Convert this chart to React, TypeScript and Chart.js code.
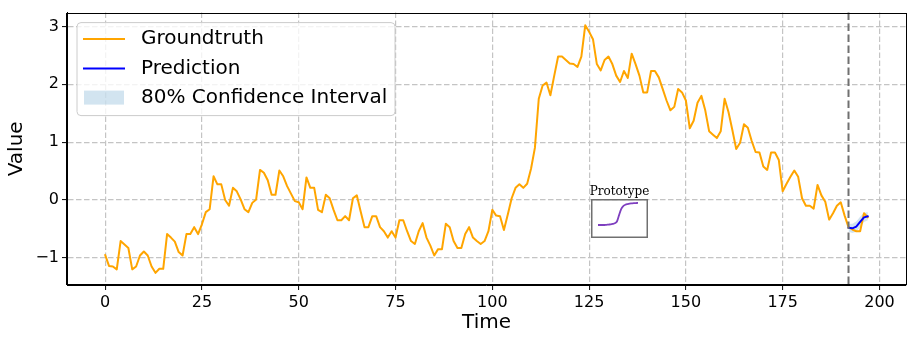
import React, { useEffect, useRef } from "react";
import { Chart, registerables } from "chart.js";

Chart.register(...registerables);

// ---------- data ----------
const groundtruth: number[] = [
  -0.95, -1.14, -1.15, -1.2, -0.71, -0.77, -0.83, -1.2, -1.15, -0.96,
  -0.89, -0.96, -1.15, -1.26, -1.19, -1.19, -0.59, -0.65, -0.72, -0.9,
  -0.96, -0.59, -0.59, -0.47, -0.59, -0.42, -0.21, -0.16, 0.41, 0.27,
  0.27, 0.0, -0.1, 0.21, 0.15, 0.01, -0.16, -0.21, -0.05, 0.01,
  0.52, 0.47, 0.34, 0.09, 0.09, 0.51, 0.41, 0.24, 0.11, -0.02,
  -0.04, -0.16, 0.39, 0.21, 0.21, -0.17, -0.21, 0.09, 0.03, -0.17,
  -0.35, -0.35, -0.28, -0.35, 0.03, 0.08, -0.2, -0.47, -0.47, -0.28,
  -0.28, -0.47, -0.54, -0.65, -0.54, -0.65, -0.35, -0.35, -0.54, -0.71,
  -0.76, -0.54, -0.4, -0.65, -0.79, -0.96, -0.85, -0.85, -0.41, -0.47,
  -0.71, -0.83, -0.83, -0.59, -0.47, -0.65, -0.71, -0.76, -0.71, -0.54,
  -0.17, -0.27, -0.28, -0.52, -0.25, 0.03, 0.21, 0.27, 0.21, 0.28,
  0.54, 0.9, 1.75, 1.98, 2.03, 1.81, 2.15, 2.48, 2.48, 2.42,
  2.36, 2.35, 2.3, 2.48, 3.02, 2.91, 2.78, 2.35, 2.24, 2.42,
  2.48, 2.35, 2.15, 2.04, 2.23, 2.11, 2.53, 2.35, 2.15, 1.86,
  1.86, 2.23, 2.23, 2.12, 1.92, 1.72, 1.55, 1.61, 1.92, 1.86,
  1.72, 1.24, 1.37, 1.68, 1.8, 1.55, 1.19, 1.13, 1.07, 1.19,
  1.75, 1.52, 1.21, 0.88, 0.99, 1.31, 1.25, 1.02, 0.83, 0.82,
  0.58, 0.52, 0.82, 0.82, 0.69, 0.15, 0.28, 0.4, 0.51, 0.4,
  0.03, -0.1, -0.1, -0.15, 0.26, 0.08, -0.03, -0.34, -0.23, -0.1,
  -0.04, -0.27, -0.47, -0.51, -0.54, -0.54, -0.23, -0.3,
];

const forecastStart = 192;
const prediction: number[] = [-0.48, -0.49, -0.46, -0.38, -0.3, -0.28];
const intervalLower: number[] = [-0.55, -0.57, -0.55, -0.47, -0.38, -0.35];
const intervalUpper: number[] = [-0.41, -0.41, -0.37, -0.29, -0.22, -0.21];

const xTicks: number[] = [0, 25, 50, 75, 100, 125, 150, 175, 200];
const yTicks: number[] = [-1, 0, 1, 2, 3];
const xRange: [number, number] = [-9.85, 206.85];
const yRange: [number, number] = [-1.47, 3.24];

const legendLabels: string[] = ["Groundtruth", "Prediction", "80% Confidence Interval"];
const xTitle = "Time";
const yTitle = "Value";

const prototypeTitle = "Prototype";
const prototypeCurve: number[] = [
  0, 0, 0, 0, 0.01, 0.02, 0.03, 0.05, 0.08, 0.16,
  0.45, 0.72, 0.86, 0.92, 0.95, 0.97, 0.98, 0.99, 0.995, 1.0,
];
const prototypeXRange: [number, number] = [-3.33, 23.75];
const prototypeYRange: [number, number] = [-0.59, 1.18];

// ---------- styles ----------
const FONT = "DejaVu Sans";
const ORANGE = "#ffa500";
const BLUE = "#0000ff";
const BAND = "rgba(31,119,180,0.2)";
const GRID = "#c4c4c4";
const PURPLE = "#7e3fbf";

const fmt = (v: number) => (v < 0 ? "\u2212" + Math.abs(v) : String(v));

const overlayPlugin = {
  id: "overlay",
  afterDatasetsDraw(chart: any) {
    const { ctx, chartArea: a, scales } = chart;
    // forecast start line
    const xv = scales.x.getPixelForValue(forecastStart);
    ctx.save();
    ctx.strokeStyle = "#707070";
    ctx.lineWidth = 2;
    ctx.setLineDash([7.5, 3.5]);
    ctx.beginPath();
    ctx.moveTo(xv, a.top);
    ctx.lineTo(xv, a.bottom);
    ctx.stroke();
    ctx.restore();
  },
  afterDraw(chart: any) {
    const { ctx, chartArea: a } = chart;
    ctx.save();
    // frame
    ctx.strokeStyle = "#000";
    ctx.lineWidth = 1;
    ctx.strokeRect(Math.round(a.left) - 0.5, Math.round(a.top) + 0.5, Math.round(a.right - a.left) + 1, Math.round(a.bottom - a.top) - 1);

    // legend
    const bx = a.left + 10, by = a.top + 10, bw = 318, bh = 93, r = 4;
    ctx.beginPath();
    ctx.moveTo(bx + r, by);
    ctx.lineTo(bx + bw - r, by);
    ctx.quadraticCurveTo(bx + bw, by, bx + bw, by + r);
    ctx.lineTo(bx + bw, by + bh - r);
    ctx.quadraticCurveTo(bx + bw, by + bh, bx + bw - r, by + bh);
    ctx.lineTo(bx + r, by + bh);
    ctx.quadraticCurveTo(bx, by + bh, bx, by + bh - r);
    ctx.lineTo(bx, by + r);
    ctx.quadraticCurveTo(bx, by, bx + r, by);
    ctx.closePath();
    ctx.fillStyle = "rgba(255,255,255,0.8)";
    ctx.fill();
    ctx.strokeStyle = "#cccccc";
    ctx.lineWidth = 1;
    ctx.stroke();

    const rows = [by + 16.3, by + 45.8, by + 75];
    const hx0 = bx + 6, hx1 = bx + 48, tx = bx + 64;
    ctx.lineWidth = 2;
    ctx.strokeStyle = ORANGE;
    ctx.beginPath(); ctx.moveTo(hx0, rows[0]); ctx.lineTo(hx1, rows[0]); ctx.stroke();
    ctx.strokeStyle = BLUE;
    ctx.beginPath(); ctx.moveTo(hx0, rows[1]); ctx.lineTo(hx1, rows[1]); ctx.stroke();
    ctx.fillStyle = BAND;
    ctx.fillRect(hx0 + 1, rows[2] - 7, 40, 14);

    ctx.fillStyle = "#000";
    ctx.font = `20px "${FONT}"`;
    ctx.textBaseline = "middle";
    ctx.textAlign = "left";
    legendLabels.forEach((t, i) => ctx.fillText(t, tx, rows[i]));
    ctx.restore();
  },
};

const insetPlugin = {
  id: "insetFrame",
  afterDraw(chart: any) {
    const { ctx, width, height } = chart;
    ctx.save();
    ctx.strokeStyle = "#707070";
    ctx.lineWidth = 1.5;
    ctx.strokeRect(0.75, 0.75, width - 1.5, height - 1.5);
    ctx.restore();
  },
};

export default function App() {
  const mainRef = useRef<HTMLCanvasElement | null>(null);
  const insetRef = useRef<HTMLCanvasElement | null>(null);

  useEffect(() => {
    document.body.style.margin = "0";
    const gtPts = groundtruth.map((y, i) => ({ x: i, y }));
    const predPts = prediction.map((y, i) => ({ x: forecastStart + i, y }));
    const upPts = intervalUpper.map((y, i) => ({ x: forecastStart + i, y }));
    const loPts = intervalLower.map((y, i) => ({ x: forecastStart + i, y }));

    const tickFont = { family: FONT, size: 16 };
    const titleFont = { family: FONT, size: 20 };

    const main = new Chart(mainRef.current as HTMLCanvasElement, {
      type: "line",
      data: {
        datasets: [
          { label: legendLabels[1], data: predPts, borderColor: BLUE, borderWidth: 2, pointRadius: 0, fill: false, order: 0 } as any,
          { label: legendLabels[0], data: gtPts, borderColor: ORANGE, borderWidth: 2, pointRadius: 0, fill: false, order: 1 } as any,
          { label: "upper", data: upPts, borderWidth: 0, borderColor: "rgba(0,0,0,0)", pointRadius: 0, fill: "+1", backgroundColor: BAND, order: 2 } as any,
          { label: "lower", data: loPts, borderWidth: 0, borderColor: "rgba(0,0,0,0)", pointRadius: 0, fill: false, order: 3 } as any,
        ],
      },
      options: {
        animation: false,
        responsive: false,
        devicePixelRatio: 1,
        parsing: false as any,
        normalized: true,
        layout: { padding: { left: 0, right: 8, top: 7, bottom: 0 } },
        plugins: { legend: { display: false }, tooltip: { enabled: false }, title: { display: false } },
        elements: { line: { tension: 0, borderJoinStyle: "round", borderCapStyle: "round" } },
        scales: {
          x: {
            type: "linear",
            min: xRange[0],
            max: xRange[1],
            afterBuildTicks: (axis: any) => { axis.ticks = xTicks.map((v) => ({ value: v })); },
            afterFit: (s: any) => { s.height = 58; },
            grid: { color: GRID, lineWidth: 1.2, tickLength: 5, tickColor: "#000", tickWidth: 1, tickBorderDash: [] },
            border: { display: true, color: "#000", width: 1, dash: [5.5, 2.5] },
            ticks: { font: tickFont, color: "#000", padding: 3, maxRotation: 0, autoSkip: false, callback: (v: any) => fmt(Number(v)) },
            title: { display: true, text: xTitle, font: titleFont, color: "#000", padding: { top: 0, bottom: 8 } },
          },
          y: {
            type: "linear",
            min: yRange[0],
            max: yRange[1],
            afterBuildTicks: (axis: any) => { axis.ticks = yTicks.map((v) => ({ value: v })); },
            afterFit: (s: any) => { s.width = 67; },
            grid: { color: GRID, lineWidth: 1.2, tickLength: 5, tickColor: "#000", tickWidth: 1, tickBorderDash: [] },
            border: { display: true, color: "#000", width: 1, dash: [5.5, 2.5] },
            ticks: { font: tickFont, color: "#000", padding: 3, autoSkip: false, callback: (v: any) => fmt(Number(v)) },
            title: { display: true, text: yTitle, font: titleFont, color: "#000", padding: { top: 5, bottom: 0 } },
          },
        },
      } as any,
      plugins: [overlayPlugin],
    });

    const inset = new Chart(insetRef.current as HTMLCanvasElement, {
      type: "line",
      data: {
        datasets: [
          { data: prototypeCurve.map((y, i) => ({ x: i, y })), borderColor: PURPLE, borderWidth: 1.8, pointRadius: 0, fill: false, tension: 0.3 } as any,
        ],
      },
      options: {
        animation: false,
        responsive: false,
        devicePixelRatio: 1,
        parsing: false as any,
        layout: { padding: 0 },
        plugins: { legend: { display: false }, tooltip: { enabled: false } },
        scales: {
          x: { type: "linear", display: false, min: prototypeXRange[0], max: prototypeXRange[1] },
          y: { type: "linear", display: false, min: prototypeYRange[0], max: prototypeYRange[1] },
        },
      } as any,
      plugins: [insetPlugin],
    });

    return () => {
      main.destroy();
      inset.destroy();
    };
  }, []);

  return (
    <div style={{ position: "absolute", left: 0, top: 0, width: 914, height: 343, background: "#fff" }}>
      <canvas ref={mainRef} width={914} height={343} style={{ position: "absolute", left: 0, top: 0, width: 914, height: 343 }} />
      <div
        style={{
          position: "absolute",
          left: 571,
          top: 185,
          width: 97,
          textAlign: "center",
          fontFamily: '"DejaVu Serif"',
          fontSize: 12,
          lineHeight: "12px",
          color: "#000",
          whiteSpace: "nowrap",
        }}
      >
        {prototypeTitle}
      </div>
      <canvas ref={insetRef} width={57} height={39} style={{ position: "absolute", left: 591, top: 199, width: 57, height: 39 }} />
    </div>
  );
}
